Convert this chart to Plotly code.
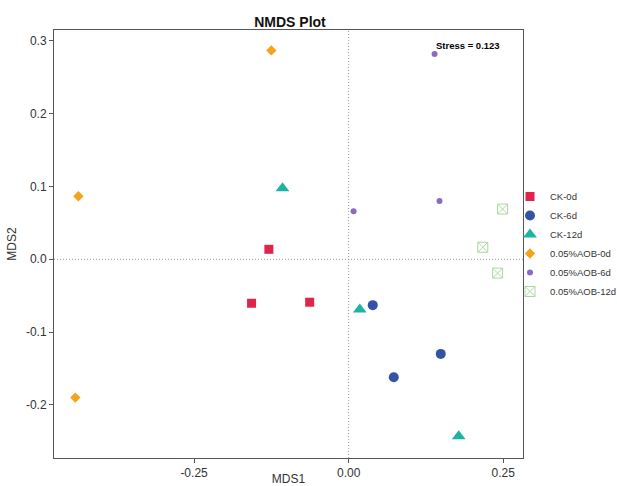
import plotly.graph_objects as go

groups = ["CK-0d", "CK-6d", "CK-12d", "0.05%AOB-0d", "0.05%AOB-6d", "0.05%AOB-12d"]
mds1 = {
    "CK-0d": [-0.129, -0.157, -0.063],
    "CK-6d": [0.039, 0.149, 0.073],
    "CK-12d": [-0.107, 0.018, 0.178],
    "0.05%AOB-0d": [-0.125, -0.437, -0.442],
    "0.05%AOB-6d": [0.139, 0.008, 0.147],
    "0.05%AOB-12d": [0.249, 0.217, 0.241],
}
mds2 = {
    "CK-0d": [0.0137, -0.0604, -0.059],
    "CK-6d": [-0.063, -0.130, -0.162],
    "CK-12d": [0.0975, -0.069, -0.243],
    "0.05%AOB-0d": [0.287, 0.0865, -0.190],
    "0.05%AOB-6d": [0.282, 0.066, 0.080],
    "0.05%AOB-12d": [0.069, 0.0165, -0.019],
}
colors = ["#E0254A", "#3553A6", "#1DB3A5", "#F7A21B", "#8C6BBE", "#A9D9A0"]
symbols = ["square", "circle", "triangle-up", "diamond", "circle", "square-x-open"]
sizes = [9, 10, 12, 8, 6, 10]

fig = go.Figure()
for g, c, s, sz in zip(groups, colors, symbols, sizes):
    fig.add_trace(go.Scatter(
        x=mds1[g], y=mds2[g], mode="markers", name=g,
        marker=dict(color=c, symbol=s, size=sz, line=dict(width=1 if "open" in s else 0, color=c)),
    ))

fig.add_shape(type="line", xref="x", yref="paper", x0=0, x1=0, y0=0, y1=1,
              line=dict(color="#999999", width=1, dash="1px,2px"))
fig.add_shape(type="line", xref="paper", yref="y", x0=0, x1=1, y0=0, y1=0,
              line=dict(color="#999999", width=1, dash="1px,2px"))

fig.add_annotation(x=0.1385, y=0.2935, xref="x", yref="y", text="<b>Stress = 0.123</b>",
                   showarrow=False, xanchor="left", yanchor="middle",
                   font=dict(size=9.5, color="#000000", family="Liberation Sans"))

axis_common = dict(showgrid=False, zeroline=False, showline=True, mirror=True,
                   linecolor="#555555", linewidth=1, ticks="outside", ticklen=4,
                   tickcolor="#555555", tickfont=dict(size=12, color="#333333"))

fig.update_layout(
    width=617, height=486,
    margin=dict(l=54, r=94, t=30, b=28, autoexpand=False),
    plot_bgcolor="white", paper_bgcolor="white",
    font=dict(family="Liberation Sans", color="#333333"),
    title=dict(text="<b>NMDS Plot</b>", x=290 / 617, xanchor="center",
               y=1 - 22 / 486, yanchor="middle", font=dict(size=14, color="#111111")),
    xaxis=dict(range=[-0.4765, 0.282], tickvals=[-0.25, 0, 0.25],
               ticktext=["-0.25", "0.00", "0.25"],
               title=dict(text="MDS1", font=dict(size=12, color="#333333"), standoff=4),
               **axis_common),
    yaxis=dict(range=[-0.273, 0.315], tickvals=[-0.2, -0.1, 0, 0.1, 0.2, 0.3],
               ticktext=["-0.2", "-0.1", "0.0", "0.1", "0.2", "0.3"],
               title=dict(text="MDS2", font=dict(size=12, color="#333333"), standoff=6),
               **axis_common),
    legend=dict(x=(510 - 54) / 469, y=0.5, xanchor="left", yanchor="middle",
                font=dict(size=9.5, color="#333333"), tracegroupgap=0,
                itemwidth=30, bgcolor="rgba(0,0,0,0)"),
    showlegend=True,
)

fig.write_html("out.html")
